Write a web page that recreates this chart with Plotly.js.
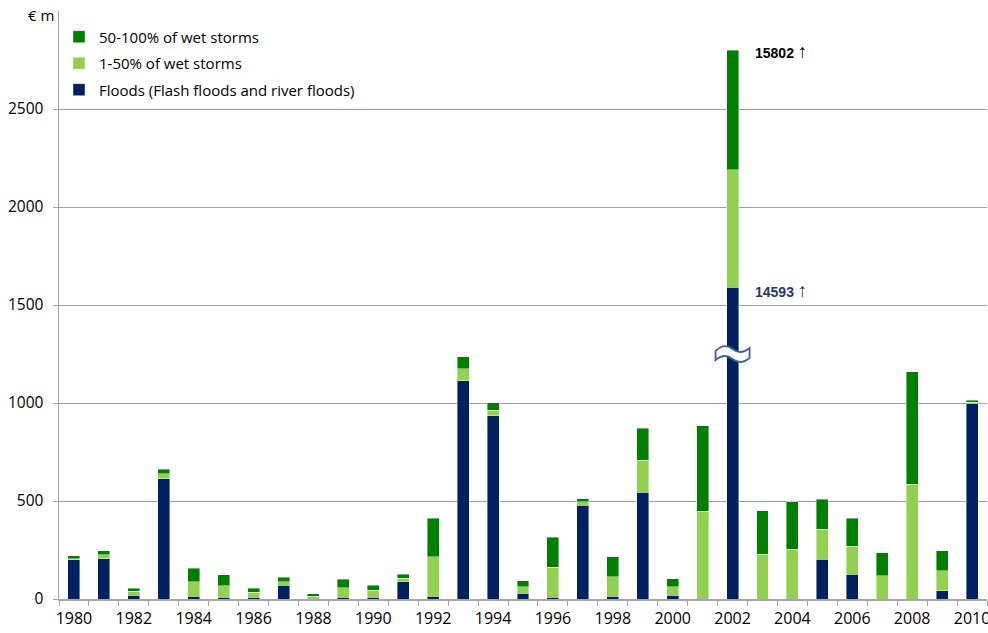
<!DOCTYPE html>
<html>
<head>
<meta charset="utf-8">
<script src="https://cdn.plot.ly/plotly-3.0.1.min.js"></script>
<style>html,body{margin:0;padding:0;background:#fff;}#chart{width:988px;height:633px;}</style>
</head>
<body>
<div id="chart"></div>
<script>
var years = [1980,1981,1982,1983,1984,1985,1986,1987,1988,1989,1990,1991,1992,1993,1994,1995,1996,1997,1998,1999,2000,2001,2002,2003,2004,2005,2006,2007,2008,2009,2010];
// Floods (2002 drawn truncated at the axis break; true value 14593)
var floods = [200,205,20,614,15,10,10,70,3,10,10,88,15,1113,935,30,8,479,15,544,20,5,1590,0,3,204,126,0,0,41,1000];
var wet1to50 = [5,22,20,25,72,58,25,18,12,48,35,17,200,63,29,32,155,16,99,165,43,444,600,228,252,153,144,119,585,103,4];
var wet50to100 = [15,20,15,24,70,57,20,24,12,44,25,21,197,60,37,32,153,17,102,161,41,435,610,222,241,153,143,116,574,101,10];
var yTicks = [0,500,1000,1500,2000,2500];
var xLabels = [1980,1982,1984,1986,1988,1990,1992,1994,1996,1998,2000,2002,2004,2006,2008,2010];
var labelFloods2002 = '14593';
var labelTotal2002 = '15802';
var breakYear = 2002, breakValue = 1250;

var font = 'Open Sans, Lato, sans-serif';
var line = {color: 'rgba(255,255,255,0.7)', width: 0.6};
var traces = [
  {type: 'bar', x: years, y: floods, name: 'Floods (Flash floods and river floods)', legendgroup: 'a', legendrank: 3, marker: {color: '#002060', line: line}},
  {type: 'bar', x: years, y: wet1to50, name: '1-50% of wet storms', legendgroup: 'b', legendrank: 2, marker: {color: '#92D050', line: line}},
  {type: 'bar', x: years, y: wet50to100, name: '50-100% of wet storms', legendgroup: 'c', legendrank: 1, marker: {color: '#008000', line: line}}
];
var idx = years.indexOf(breakYear);
var total2002 = floods[idx] + wet1to50[idx] + wet50to100[idx];
var arrow = ' <span style="font-size:19px">\u2191</span>';
var layout = {
  width: 988, height: 633,
  margin: {l: 59, r: 1, t: 11, b: 34},
  barmode: 'stack', bargap: 0.6,
  paper_bgcolor: '#fff', plot_bgcolor: '#fff',
  showlegend: true,
  legend: {x: 0.0, y: 0.984, xanchor: 'left', yanchor: 'top', traceorder: 'grouped',
           font: {family: font, size: 15, color: '#000'}, bgcolor: 'rgba(0,0,0,0)', tracegroupgap: 4},
  xaxis: {type: 'linear', range: [1979.5, 2010.5], tickvals: xLabels, ticktext: xLabels.map(String),
          ticks: '', showgrid: false, zeroline: false, showline: true, linecolor: '#a6a6a6', linewidth: 1.5,
          ticklabeloverflow: 'allow', ticklabelstandoff: 4,
          tickfont: {family: font, size: 16, color: '#000'},
          minor: {tick0: 1979.5, dtick: 1, ticks: 'outside', ticklen: 5, tickcolor: '#a6a6a6', showgrid: false}},
  yaxis: {range: [0, 3000], tickvals: yTicks, ticktext: yTicks.map(String), ticks: 'outside', ticklen: 5,
          tickcolor: '#a6a6a6', showgrid: true, gridcolor: '#a0a0a0', gridwidth: 1, zeroline: false,
          showline: true, linecolor: '#a6a6a6', linewidth: 1.5, ticklabelstandoff: 6,
          tickfont: {family: font, size: 15.5, color: '#000'}},
  annotations: [
    {xref: 'paper', yref: 'paper', x: -0.0194, y: 0.993, xanchor: 'center', yanchor: 'middle', showarrow: false,
     text: '\u20ac m', font: {family: font, size: 15, color: '#000'}},
    {x: breakYear, y: total2002, xanchor: 'left', yanchor: 'middle', xshift: 20, yshift: -1, showarrow: false,
     text: '<b>' + labelTotal2002 + arrow + '</b>', font: {family: 'Liberation Sans, Arial', size: 14, color: '#000'}},
    {x: breakYear, y: floods[idx], xanchor: 'left', yanchor: 'middle', xshift: 20, yshift: -3, showarrow: false,
     text: '<b>' + labelFloods2002 + arrow + '</b>', font: {family: 'Liberation Sans, Arial', size: 14, color: '#1f3a6e'}}
  ],
  shapes: [
    {type: 'path', xref: 'x', yref: 'y', xsizemode: 'pixel', ysizemode: 'pixel', xanchor: breakYear, yanchor: breakValue,
     path: 'M -17 3 C -11 9, -5 9, 0 5 C 5 1, 11 1, 17 6 L 17 -4 C 11 -9, 5 -9, 0 -5 C -5 -1, -11 -1, -17 -6 Z',
     fillcolor: '#ffffff', line: {color: '#3a6398', width: 1.8}}
  ]
};
Plotly.newPlot('chart', traces, layout, {displayModeBar: false, staticPlot: true});
</script>
</body>
</html>
